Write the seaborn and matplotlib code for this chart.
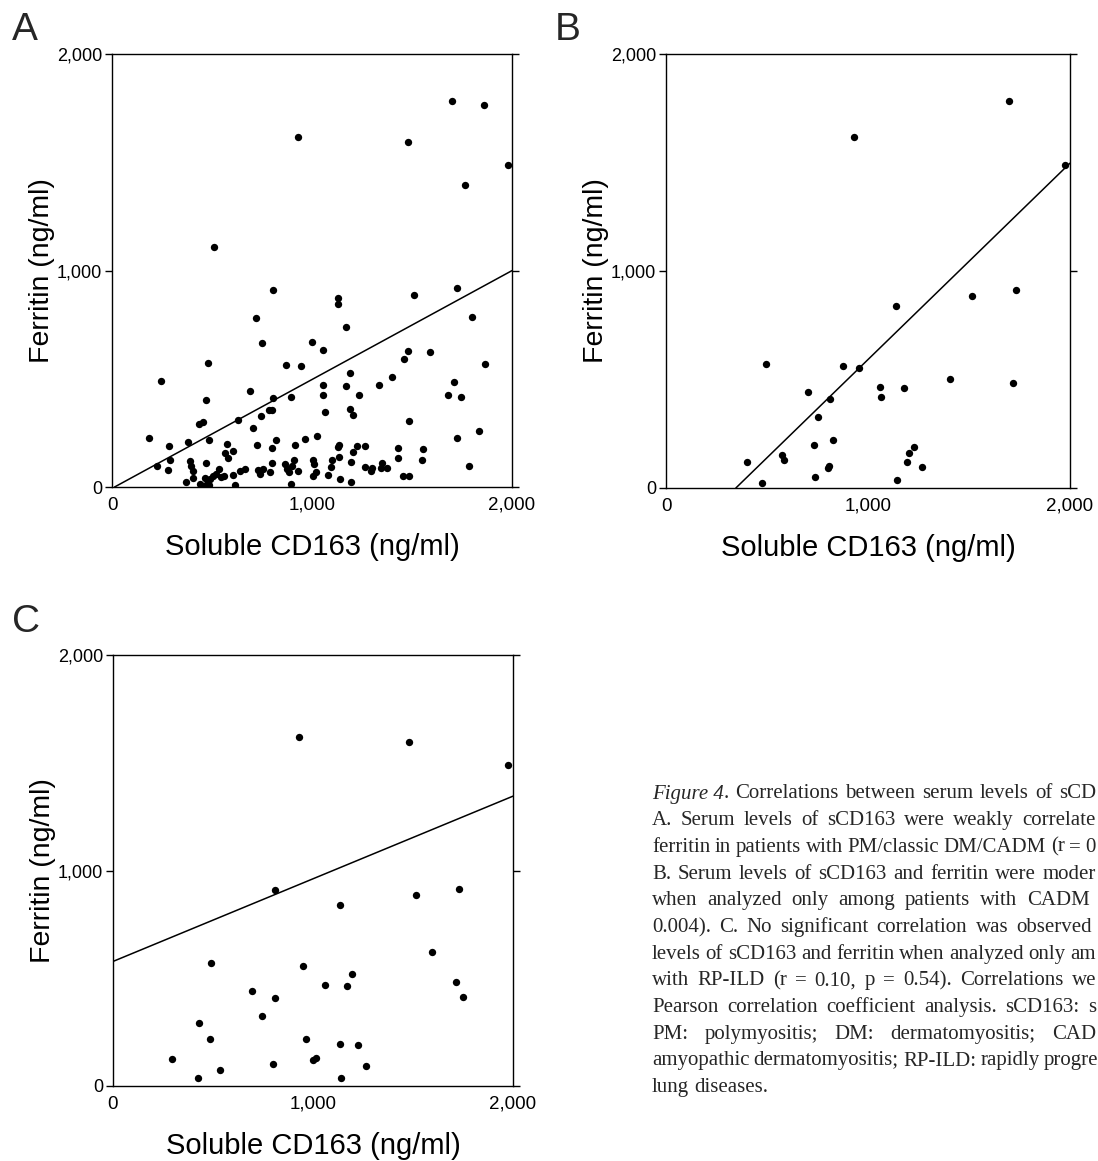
import matplotlib
matplotlib.use("Agg")
import matplotlib.pyplot as plt
from matplotlib.ticker import FuncFormatter
import seaborn as sns
import pandas as pd

# ---------------- data (ng/ml) ----------------
a_scd163 = [1702, 1860, 928, 1482, 1980, 1767, 512, 806, 1129, 1132, 1511, 1727, 1800, 722,
            1172, 748, 1002, 1057, 1865, 482, 868, 944, 246, 1478, 1461, 1589, 1189, 1401,
            1335, 1056, 1169, 1712, 690, 1679, 1747, 1057, 893, 803, 1237, 472,
            800, 785, 745, 632, 433, 453, 707, 185, 378, 485, 287, 573, 607, 565, 582, 727,
            820, 802, 913, 967, 1023, 292, 223, 278, 390, 397, 403, 468, 407, 370, 440, 457,
            473, 490, 503, 520, 533, 543, 560, 465, 487, 615, 603, 640, 665, 728, 739, 753,
            790, 802, 865, 873, 887, 898, 908, 932, 895, 1005, 1010, 1020, 1005, 1065, 1190,
            1205, 1487, 1837, 1727, 1135, 1128, 1227, 1265, 1203, 1137, 1430, 1557, 1428,
            1550, 1098, 1093, 1195, 1265, 1298, 1295, 1348, 1345, 1373, 1787, 1082, 1140,
            1197, 1457, 1487]
a_ferritin = [1783, 1764, 1615, 1595, 1487, 1395, 1107, 912, 873, 846, 889, 917, 787, 781,
              738, 663, 670, 634, 568, 572, 563, 557, 491, 626, 589, 625, 525, 506,
              469, 469, 466, 485, 444, 425, 417, 423, 417, 412, 424, 400,
              356, 354, 327, 308, 290, 299, 273, 228, 209, 217, 189, 199, 166, 156, 132, 195,
              219, 179, 194, 220, 237, 126, 96, 79, 120, 99, 75, 110, 42, 22, 15, 3,
              14, 35, 50, 62, 85, 47, 52, 43, 9, 11, 55, 75, 83, 80, 60, 83,
              71, 111, 105, 83, 68, 95, 123, 75, 12, 127, 108, 71, 53, 346, 359,
              333, 305, 260, 228, 194, 183, 189, 189, 160, 140, 182, 176, 133,
              125, 125, 94, 117, 94, 89, 75, 109, 89, 86, 97, 54, 36,
              22, 52, 52]

b_scd163 = [1700, 932, 1977, 1731, 1514, 1140, 494, 875, 954, 1407, 1717, 1061, 1176, 1066,
            702, 812, 750, 825, 731, 1229, 1204, 575, 586, 399, 1194, 807, 804, 1267, 738,
            474, 1143]
b_ferritin = [1784, 1616, 1489, 913, 885, 841, 570, 560, 554, 504, 482, 467, 462, 420,
              441, 409, 326, 219, 198, 191, 161, 153, 130, 118, 118, 103, 90, 95, 49,
              23, 35]

c_scd163 = [928, 1480, 1977, 810, 1730, 1515, 1137, 1593, 488, 950, 1195, 1058, 1172, 695,
            1717, 1752, 808, 745, 430, 485, 963, 1137, 1223, 295, 1013, 1002, 802, 1265,
            535, 425, 1140]
c_ferritin = [1618, 1598, 1491, 909, 913, 886, 841, 621, 570, 555, 521, 467, 464, 442,
              482, 414, 408, 325, 292, 218, 218, 195, 192, 127, 131, 122, 100, 94,
              73, 37, 36]

# fitted regression lines as printed in the figure (intercept, slope)
a_fit = (-6.5, 0.503)
b_fit = (-313.0, 0.905)
c_fit = (578.0, 0.3835)

ticks = [0, 1000, 2000]
panel_letters = ["A", "B", "C"]
x_label = "Soluble CD163 (ng/ml)"
y_label = "Ferritin (ng/ml)"
caption_italic = "Figure 4"
caption_lines = [
    ". Correlations between serum levels of sCD",
    "A. Serum levels of sCD163 were weakly correlate",
    "ferritin in patients with PM/classic DM/CADM (r = 0",
    "B. Serum levels of sCD163 and ferritin were moder",
    "when analyzed only among patients with CADM",
    "0.004). C. No significant correlation was observed",
    "levels of sCD163 and ferritin when analyzed only am",
    "with RP-ILD (r = 0.10, p = 0.54). Correlations we",
    "Pearson correlation coefficient analysis. sCD163: s",
    "PM: polymyositis; DM: dermatomyositis; CAD",
    "amyopathic dermatomyositis; RP-ILD: rapidly progre",
    "lung diseases.",
]

# ---------------- style ----------------
sns.set_theme(style="white")
plt.rcParams["font.family"] = ["Liberation Sans", "DejaVu Sans"]

W, H = 1098, 1161
fig = plt.figure(figsize=(W / 100, H / 100), dpi=100)


def px_axes(left, top, right, bottom):
    return fig.add_axes([left / W, 1 - bottom / H, (right - left) / W, (bottom - top) / H])


panels = [
    (px_axes(112, 54, 512, 487), a_scd163, a_ferritin, a_fit),
    (px_axes(666, 54, 1070, 488), b_scd163, b_ferritin, b_fit),
    (px_axes(113, 655, 513, 1086), c_scd163, c_ferritin, c_fit),
]

fmt = FuncFormatter(lambda v, p: f"{v:,.0f}")

for ax, xs, ys, (b0, b1) in panels:
    df = pd.DataFrame({"x": xs, "y": ys})
    ax.set_xlim(0, 2000)
    ax.set_ylim(0, 2000)
    sns.regplot(data=df, x="x", y="y", ax=ax, fit_reg=False,
                scatter_kws=dict(s=28, color="black", linewidths=0, alpha=1))
    ax.axline((0, b0), slope=b1, color="black", lw=1.1)
    ax.set_xlim(0, 2000)
    ax.set_ylim(0, 2000)
    ax.set_xticks(ticks)
    ax.set_yticks(ticks)
    ax.xaxis.set_major_formatter(fmt)
    ax.yaxis.set_major_formatter(fmt)
    for s in ax.spines.values():
        s.set_visible(True)
        s.set_color("black")
        s.set_linewidth(1.0)
    ax.tick_params(axis="y", left=True, right=True, labelright=False, direction="out",
                   length=5, width=1.0, colors="black", labelsize=13, pad=2)
    ax.tick_params(axis="x", bottom=True, length=0, labelsize=13.5, pad=7, colors="black")
    ax.set_xlabel(x_label, fontsize=21, color="black")
    ax.set_ylabel(y_label, fontsize=20.5, color="black")
    ax.xaxis.set_label_coords(0.5, -0.107)
    ax.yaxis.set_label_coords(-0.142, 0.5)

fig.text(12 / W, 1 - 40 / H, panel_letters[0], fontsize=28, va="baseline", ha="left")
fig.text(555 / W, 1 - 40 / H, panel_letters[1], fontsize=28, va="baseline", ha="left")
fig.text(12 / W, 1 - 632 / H, panel_letters[2], fontsize=28, va="baseline", ha="left")

# ---------------- caption (justified, as printed) ----------------
serif = ["Liberation Serif", "DejaVu Serif"]
cap_fs = 15
cap_x = 652
cap_y0 = 798.5
cap_dy = 26.7
cap_right = [1096, 1096, 1096, 1096, 1090, 1092, 1096, 1096, 1096, 1096, 1096, None]

fig.canvas.draw()
r = fig.canvas.get_renderer()


def run_width(txt, style):
    t = fig.text(0, 0, txt, fontsize=cap_fs, family=serif, style=style)
    w = t.get_window_extent(renderer=r).width
    t.remove()
    return w


space_w = run_width("a a", "normal") - run_width("aa", "normal")

for i, line in enumerate(caption_lines):
    words = [[(w, "normal")] for w in line.split(" ")]
    if i == 0:
        words[0] = [(caption_italic, "italic"), (words[0][0][0], "normal")]
    widths = [sum(run_width(t, st) for t, st in wd) for wd in words]
    if cap_right[i] is not None and len(words) > 1:
        gap = (cap_right[i] - cap_x - sum(widths)) / (len(words) - 1)
        gap = max(gap, 0.8 * space_w)
    else:
        gap = space_w
    x = cap_x
    ybase = 1 - (cap_y0 + i * cap_dy) / H
    for wd, wdw in zip(words, widths):
        xx = x
        for t, st in wd:
            fig.text(xx / W, ybase, t, fontsize=cap_fs, family=serif, style=st,
                     va="baseline", ha="left")
            xx += run_width(t, st)
        x += wdw + gap

fig.savefig("out.png", dpi=100)
